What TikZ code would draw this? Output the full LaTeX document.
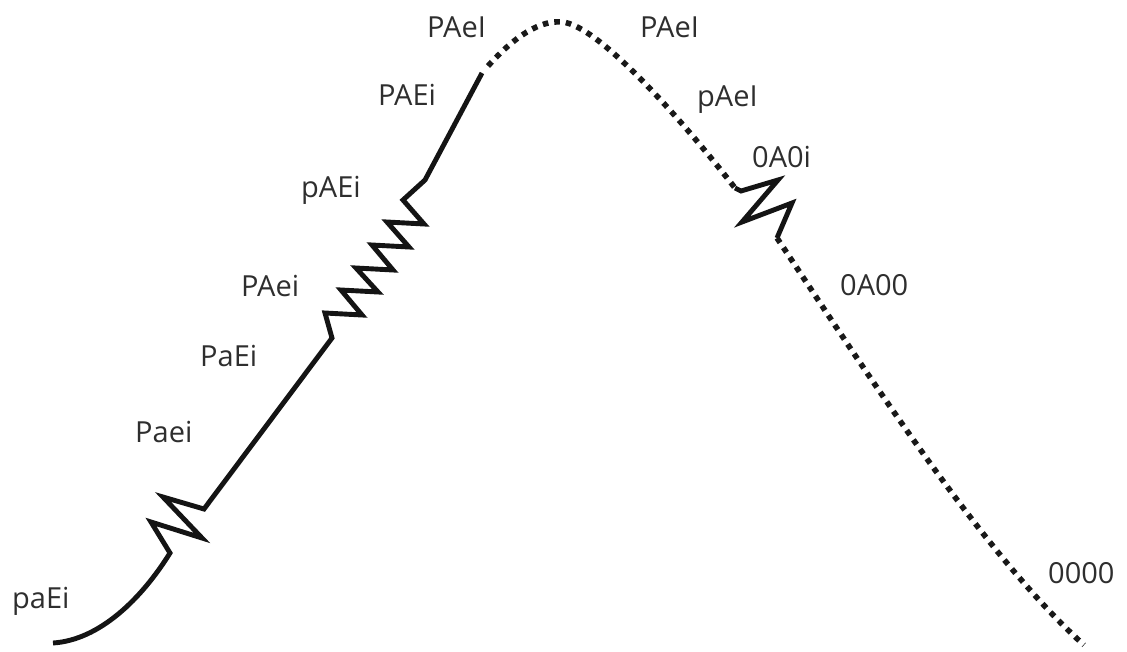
\documentclass[tikz,border=0pt]{standalone}
\usepackage{fontspec}
\setmainfont{Open Sans}
\begin{document}
\begin{tikzpicture}[x=1pt,y=-1pt,
  lbl/.style={anchor=base west,inner sep=0pt,text=black!82,
    font=\fontsize{29}{34}\selectfont},
  solidpath/.style={line width=4.9pt,black!92,line join=miter,miter limit=10},
  dotpath/.style={line width=5.6pt,black!90,dash pattern=on 5.6pt off 6pt}]
\useasboundingbox (0,0) rectangle (1127,651);

% joints of the ascending branch
\coordinate (start) at (53,643);
\coordinate (za0) at (170,553);
\coordinate (za1) at (151,522);
\coordinate (za2) at (202,538);
\coordinate (za3) at (163,497);
\coordinate (za4) at (204,509);
\coordinate (kink) at (332,338);
\coordinate (zbend) at (425,180);
\coordinate (top) at (482,73);

% solid ascending branch with two zigzag breaks
\draw[solidpath] (start) .. controls (100,640) and (142,598) .. (za0)
  -- (za1) -- (za2) -- (za3) -- (za4) -- (kink)
  -- (325,313) -- (362,315)
  -- (341,290) -- (378,292)
  -- (356,268) -- (393,270)
  -- (372,245) -- (409,247)
  -- (387,222) -- (424,224)
  -- (403,200) -- (zbend) -- (top);

% dotted descending branch
\coordinate (dstart) at (488,66);
\coordinate (peak) at (562,22);
\coordinate (brk1) at (735,188);
\coordinate (brk2) at (777,238);
\coordinate (dend) at (1084,645);

\draw[dotpath] (dstart) .. controls (515,36) and (540,20) .. (peak)
  .. controls (600,25) and (690,130) .. (brk1);
\draw[solidpath] (brk1) -- (741,191) -- (778,180) -- (742,222)
  -- (792,203) -- (brk2);
\draw[dotpath] (brk2) .. controls (870,378) and (985,556) .. (dend);

% genotype labels
\node[lbl] (l1) at (427,37) {PAeI};
\node[lbl] (l2) at (378,105) {PAEi};
\node[lbl] (l3) at (301,197) {pAEi};
\node[lbl] (l4) at (241,296) {PAei};
\node[lbl] (l5) at (200,366) {PaEi};
\node[lbl] (l6) at (135,442) {Paei};
\node[lbl] (l7) at (12,608) {paEi};
\node[lbl] (r1) at (640,37) {PAeI};
\node[lbl] (r2) at (697,106) {pAeI};
\node[lbl] (r3) at (752,167) {0A0i};
\node[lbl] (r4) at (840,295) {0A00};
\node[lbl] (r5) at (1048,583) {0000};
\end{tikzpicture}
\end{document}
